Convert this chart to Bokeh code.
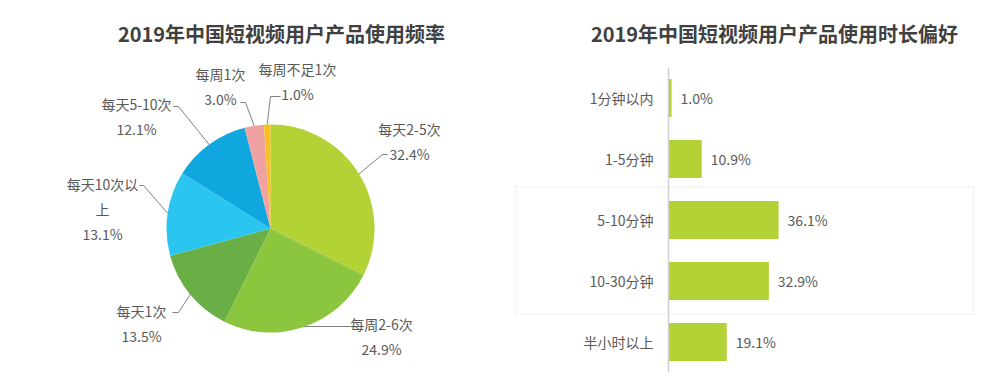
import math
from bokeh.plotting import figure
from bokeh.layouts import row
from bokeh.models import Range1d, FactorRange, ColumnDataSource, Span, BoxAnnotation
from bokeh.core.properties import value
from bokeh.embed import file_html
from bokeh.resources import INLINE

# ---------------- data ----------------
pie_title = "2019年中国短视频用户产品使用频率"
pie_categories = ["每天2-5次", "每周2-6次", "每天1次", "每天10次以上", "每天5-10次", "每周1次", "每周不足1次"]
pie_values = [32.4, 24.9, 13.5, 13.1, 12.1, 3.0, 1.0]
pie_colors = ["#b3d235", "#8cc63f", "#6aaf46", "#2bc6f0", "#10a7df", "#f0a2a2", "#f8c21d"]

bar_title = "2019年中国短视频用户产品使用时长偏好"
bar_categories = ["1分钟以内", "1-5分钟", "5-10分钟", "10-30分钟", "半小时以上"]
bar_values = [1.0, 10.9, 36.1, 32.9, 19.1]
highlighted = ["5-10分钟", "10-30分钟"]

# ---------------- layout / style ----------------
FONT = "Noto Sans CJK SC"
TEXT_COLOR = "#595959"
TITLE_COLOR = "#404040"
LINE_COLOR = "#808080"
BAR_COLOR = "#b3d235"

H = 387
FRAME_TOP, FRAME_BOTTOM = 67, 372            # page pixels, shared by both plots
PIE_W = 500
PIE_CX, PIE_CY, PIE_R = 270, 228, 104        # page pixels
LINE_GAP = 25
TITLE_Y = 33
# label placement (page pixels): elbow, end of leader, text centre x, first line y, wrap width
label_layout = {
    "每天2-5次":   dict(elbow=(382, 154), end=(387, 154), tx=409, ty=128, wrap=None),
    "每周2-6次":   dict(elbow=(305, 326), end=(350, 326), tx=381, ty=323, wrap=None),
    "每天1次":     dict(elbow=(178, 312), end=(172, 312), tx=141, ty=310, wrap=None),
    "每天10次以上": dict(elbow=(143, 185), end=(139, 185), tx=102, ty=183, wrap=6),
    "每天5-10次":  dict(elbow=(178, 106), end=(173, 106), tx=136, ty=103, wrap=None),
    "每周1次":     dict(elbow=(245, 102), end=(240, 102), tx=220, ty=73, wrap=None),
    "每周不足1次":  dict(elbow=(270, 96), end=(280, 96), tx=297, ty=68, wrap=None),
}


def px(x, y):
    """page pixel -> pie data coordinates (1 unit = 1 px, centred on pie)."""
    return x - PIE_CX, PIE_CY - y


# ---------------- pie ----------------
p1 = figure(width=PIE_W, height=H, x_range=Range1d(0 - PIE_CX, PIE_W - PIE_CX),
            y_range=Range1d(PIE_CY - FRAME_BOTTOM, PIE_CY - FRAME_TOP),
            min_border_left=0, min_border_right=0,
            min_border_top=FRAME_TOP, min_border_bottom=H - FRAME_BOTTOM,
            toolbar_location=None, output_backend="svg")
p1.axis.visible = False
p1.grid.visible = False
p1.outline_line_color = None

total = sum(pie_values)
starts, ends, mids = [], [], []
cum = 0.0
for v in pie_values:
    a0 = cum / total * 2 * math.pi
    cum += v
    a1 = cum / total * 2 * math.pi
    starts.append(math.pi / 2 - a0)
    ends.append(math.pi / 2 - a1)
    mids.append((a0 + a1) / 2)

pie_src = ColumnDataSource(dict(cat=pie_categories, val=pie_values, color=pie_colors,
                                start=starts, end=ends))
p1.wedge(x=0, y=0, radius=PIE_R, start_angle="start", end_angle="end", direction="clock",
         fill_color="color", line_color=None, source=pie_src)

xs, ys, tx, ty, tt = [], [], [], [], []
for cat, v, m in zip(pie_categories, pie_values, mids):
    lay = label_layout[cat]
    ax, ay = PIE_R * math.sin(m), PIE_R * math.cos(m)
    ex, ey = px(*lay["elbow"])
    nx, ny = px(*lay["end"])
    xs.append([ax, ex, nx])
    ys.append([ay, ey, ny])
    if lay["wrap"]:
        lines = [cat[i:i + lay["wrap"]] for i in range(0, len(cat), lay["wrap"])]
    else:
        lines = [cat]
    lines.append(f"{v:.1f}%")
    for i, ln in enumerate(lines):
        x_, y_ = px(lay["tx"], lay["ty"] + i * LINE_GAP)
        tx.append(x_)
        ty.append(y_)
        tt.append(ln)

p1.multi_line(xs=xs, ys=ys, line_color=LINE_COLOR, line_width=1, level="annotation")
p1.text(x=tx, y=ty, text=tt, text_font=value(FONT), text_font_size="14px",
        text_color=TEXT_COLOR, text_align="center", text_baseline="middle",
        level="annotation")

tx0, ty0 = px(281, TITLE_Y)
p1.text(x=[tx0], y=[ty0], text=[pie_title], text_font=value(FONT), text_font_size="20px",
        text_font_style="bold", text_color=TITLE_COLOR, text_align="center",
        text_baseline="middle", level="annotation")

# ---------------- bar ----------------
PX_PER_PCT = 3.05
BAR_LEFT_PAGE = PIE_W
FRAME_LEFT = 514
AXIS_X = 668
FRAME_RIGHT = 1000
bar_fig_w = FRAME_RIGHT - BAR_LEFT_PAGE
facs = list(reversed(bar_categories))
y_range = FactorRange(factors=facs, range_padding=0)
p2 = figure(width=bar_fig_w, height=H,
            x_range=Range1d(-(AXIS_X - FRAME_LEFT) / PX_PER_PCT,
                            (FRAME_RIGHT - AXIS_X) / PX_PER_PCT),
            y_range=y_range, min_border_left=FRAME_LEFT - BAR_LEFT_PAGE, min_border_right=0,
            min_border_top=FRAME_TOP, min_border_bottom=H - FRAME_BOTTOM,
            toolbar_location=None, output_backend="svg")
p2.axis.visible = False
p2.grid.visible = False
p2.outline_line_color = None

bar_src = ColumnDataSource(dict(cat=bar_categories, val=bar_values,
                                lbl=[f"{v:.1f}%" for v in bar_values],
                                zero=[0] * len(bar_values)))
p2.hbar(y="cat", left=0, right="val", height=0.62, fill_color=BAR_COLOR,
        line_color=None, source=bar_src)
p2.add_layout(Span(location=0, dimension="height", line_color="#d0d0d0", line_width=1.5))
p2.text(x="val", y="cat", text="lbl", x_offset=9, text_font=value(FONT),
        text_font_size="14px", text_color=TEXT_COLOR, text_align="left",
        text_baseline="middle", source=bar_src)
p2.text(x="zero", y="cat", text="cat", x_offset=-15, text_font=value(FONT),
        text_font_size="14px", text_color=TEXT_COLOR, text_align="right",
        text_baseline="middle", source=bar_src)

idx = [facs.index(c) for c in highlighted]
p2.add_layout(BoxAnnotation(left=-(AXIS_X - FRAME_LEFT) / PX_PER_PCT + 0.4, right=100,
                            bottom=min(idx) - 0.04, top=max(idx) + 1.04,
                            fill_alpha=0, line_color="#a8a8a8", line_dash="2 2",
                            line_width=1))

# title above the frame (synthetic categorical coordinate above the last factor)
px_per_cat = (FRAME_BOTTOM - FRAME_TOP) / len(facs)
title_y = len(facs) + (FRAME_TOP - TITLE_Y) / px_per_cat
title_x = (774 - AXIS_X) / PX_PER_PCT
p2.text(x=[title_x], y=[title_y], text=[bar_title], text_font=value(FONT),
        text_font_size="20px", text_font_style="bold", text_color=TITLE_COLOR,
        text_align="center", text_baseline="middle", level="annotation")

layout = row(p1, p2)
open("out.html", "w").write(file_html(layout, INLINE))
